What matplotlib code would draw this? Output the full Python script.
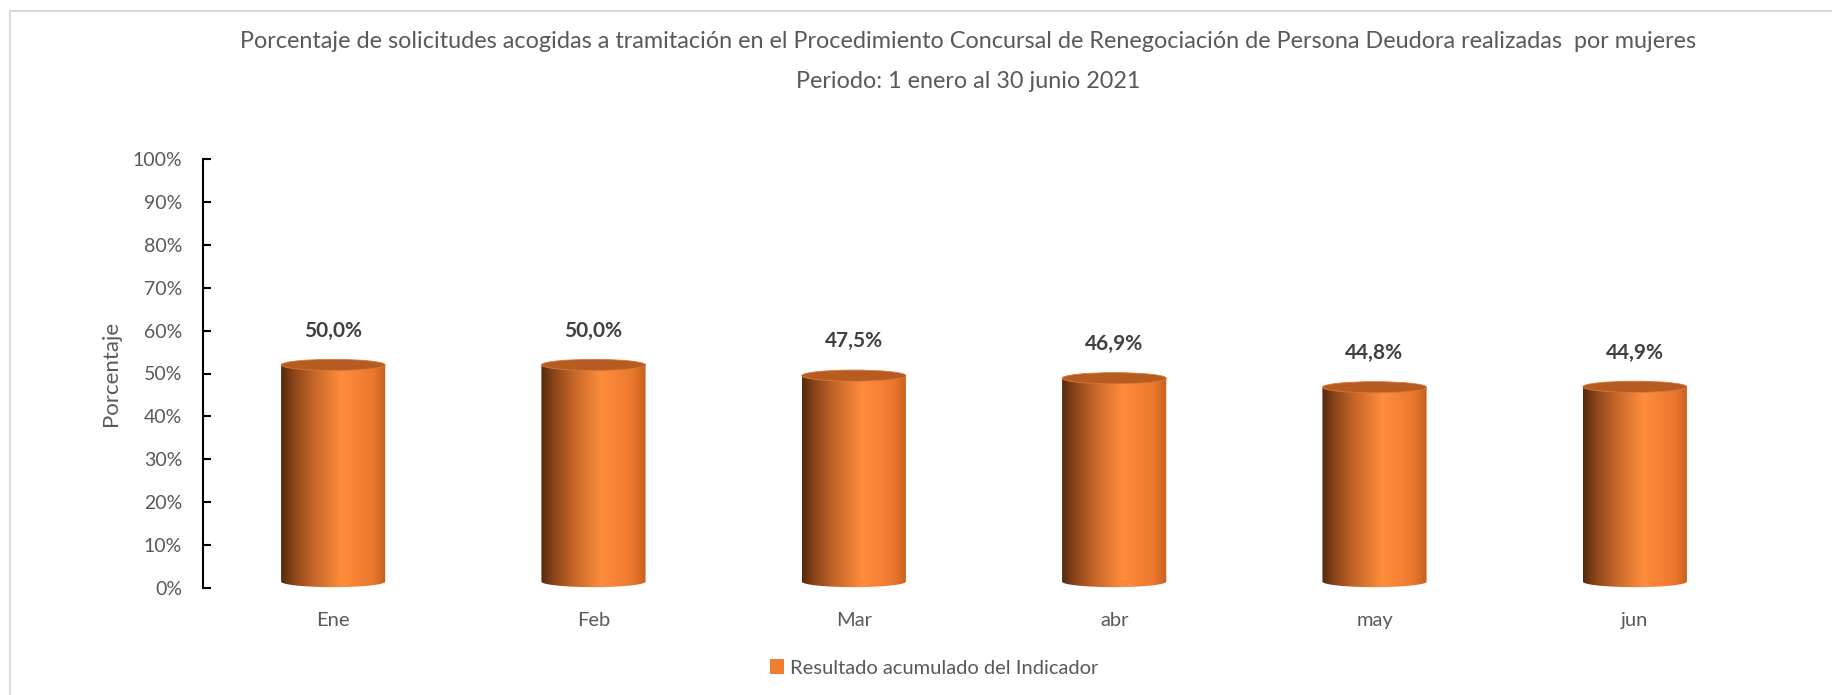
import numpy as np
import matplotlib.pyplot as plt
from matplotlib.colors import LinearSegmentedColormap
from matplotlib.patches import Polygon, Ellipse, Rectangle, Patch

# Data
meses = ['Ene', 'Feb', 'Mar', 'abr', 'may', 'jun']
porcentaje = [50.0, 50.0, 47.5, 46.9, 44.8, 44.9]
etiquetas = ['50,0%', '50,0%', '47,5%', '46,9%', '44,8%', '44,9%']
yticks = [0, 10, 20, 30, 40, 50, 60, 70, 80, 90, 100]

titulo = ('Porcentaje de solicitudes acogidas a tramitación en el Procedimiento Concursal '
          'de Renegociación de Persona Deudora realizadas  por mujeres')
subtitulo = 'Periodo: 1 enero al 30 junio 2021'
leyenda = 'Resultado acumulado del Indicador'

plt.rcParams['font.family'] = ['Lato', 'DejaVu Sans']
gris = '#595959'

W, H = 1832, 695
fig = plt.figure(figsize=(W / 100, H / 100), dpi=100)
ax = fig.add_axes([203 / W, 1 - 588 / H, (1765 - 203) / W, (588 - 159) / H])

# cylinder shading
cmap = LinearSegmentedColormap.from_list('cyl', [
    (0.0, '#55290c'), (0.12, '#8a4519'), (0.32, '#c8682a'),
    (0.58, '#ff8d3c'), (0.68, '#f98638'), (0.88, '#ea772c'), (1.0, '#c65f1e')])
grad = np.linspace(0, 1, 256).reshape(1, -1)

ancho = 0.40
base = 1.5
extra = 2.0
eh = 2.6
x = np.arange(len(meses))

for xi, v, lab in zip(x, porcentaje, etiquetas):
    x0, x1 = xi - ancho / 2, xi + ancho / 2
    top = v + extra
    t = np.linspace(np.pi, 2 * np.pi, 60)
    bottom = np.column_stack([xi + ancho / 2 * np.cos(t), base + eh / 2 * np.sin(t)])
    verts = np.vstack([[x0, top], bottom, [x1, top]])
    clip = Polygon(verts, closed=True, transform=ax.transData, facecolor='none', edgecolor='none')
    ax.add_patch(clip)
    im = ax.imshow(grad, cmap=cmap, aspect='auto', extent=[x0, x1, base - eh, top],
                   interpolation='bilinear', zorder=2)
    im.set_clip_path(clip)
    ax.add_patch(Ellipse((xi, top), ancho, eh, facecolor='#b65c20',
                         edgecolor='#d9773a', linewidth=0.6, zorder=3))
    ax.text(xi, v + 10, lab, ha='center', va='center', fontsize=15,
            fontweight='bold', color='#404040')

ax.set_xlim(-0.5, len(meses) - 0.5)
ax.set_ylim(0, 100)
ax.set_yticks(yticks)
ax.set_yticklabels([f'{t}%' for t in yticks], fontsize=14, color=gris)
ax.set_xticks(x)
ax.set_xticklabels(meses, fontsize=14.5, color=gris)
ax.tick_params(axis='y', direction='in', length=6, width=1.5, pad=15, color='black')
ax.tick_params(axis='x', length=0, pad=17)
for s in ['top', 'right', 'bottom']:
    ax.spines[s].set_visible(False)
ax.spines['left'].set_linewidth(1.5)
ax.set_ylabel('Porcentaje', fontsize=16, color=gris, labelpad=8)

fig.text(968 / W, 1 - 42 / H, titulo, ha='center', va='center', fontsize=16.8, color=gris)
fig.text(968 / W, 1 - 81 / H, subtitulo, ha='center', va='center', fontsize=16.8, color=gris)

fig.legend([Patch(facecolor='#ED7D31')], [leyenda], loc='center',
           bbox_to_anchor=(934 / W, 1 - 668 / H), frameon=False, fontsize=14.5,
           labelcolor=gris, handlelength=0.7, handleheight=0.7, handletextpad=0.3)

fig.patches.append(Rectangle((10 / W, -0.1), 1.1, 1 - 11 / H + 0.1, transform=fig.transFigure,
                             fill=False, edgecolor='#d9d9d9', linewidth=1.5))

fig.savefig('out.png', dpi=100)
